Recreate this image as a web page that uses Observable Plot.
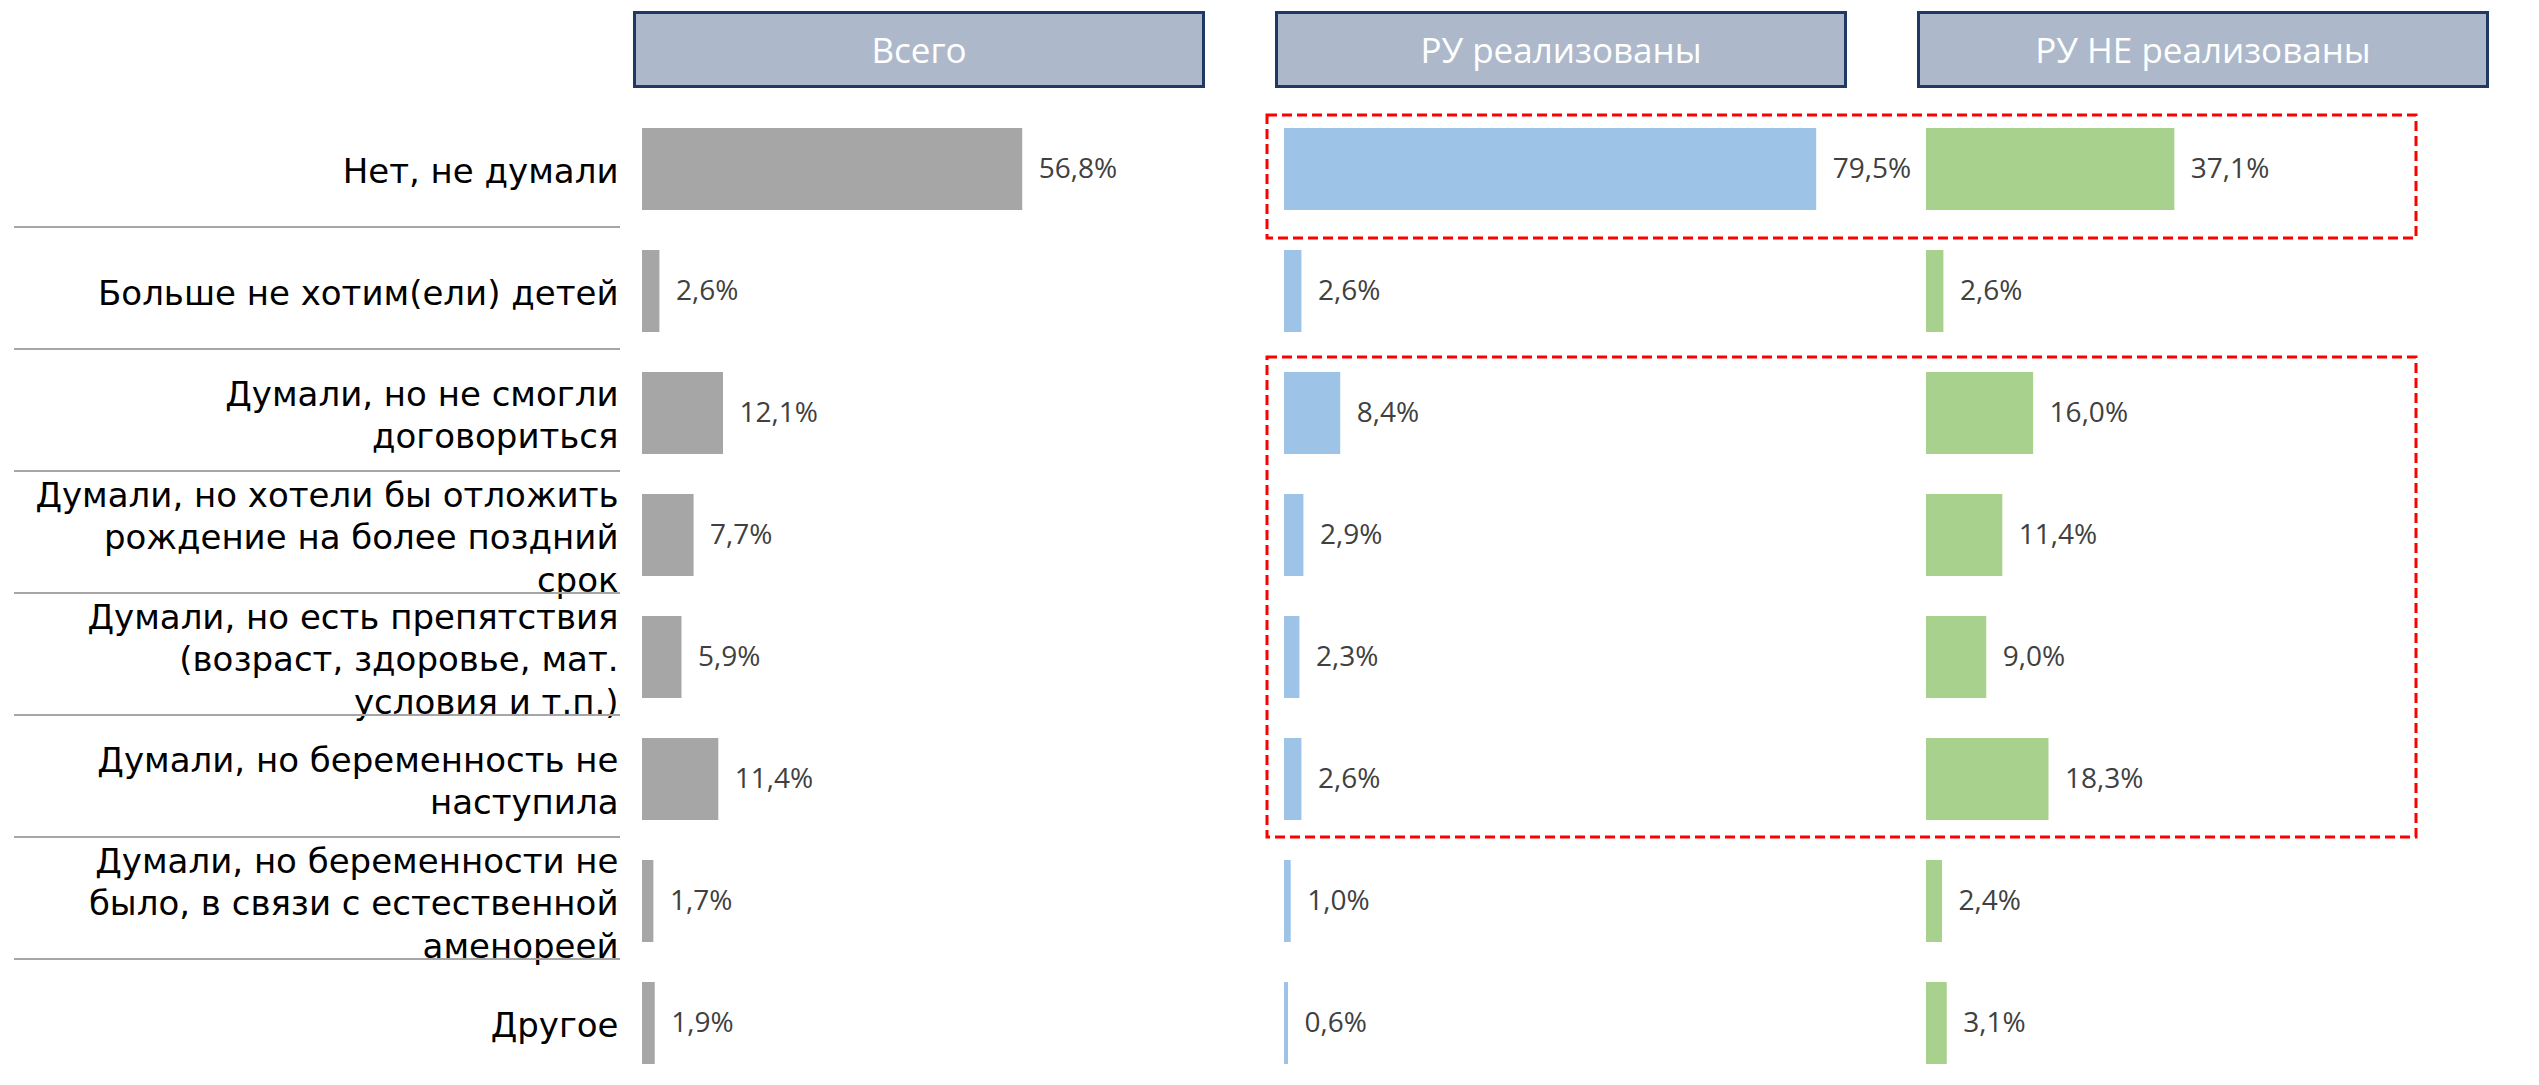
<!DOCTYPE html>
<html><head><meta charset="utf-8">
<script src="https://cdn.jsdelivr.net/npm/d3@7"></script>
<script src="https://cdn.jsdelivr.net/npm/@observablehq/plot@0.6"></script>
<style>
html,body{margin:0;padding:0;background:#fff;}
#wrap{position:relative;width:2539px;height:1085px;overflow:hidden;}
.hdr{position:absolute;box-sizing:border-box;background:#adb9ca;border:3px solid #1f3864;color:#fff;font-family:"Open Sans",sans-serif;font-size:35px;display:flex;align-items:center;justify-content:center;}
</style></head><body><div id="wrap"></div>
<script>
const groups = ["Всего", "РУ реализованы", "РУ НЕ реализованы"];
const colors = ["#a6a6a6", "#9dc3e6", "#a9d18e"];
const categories = [
  "Нет, не думали",
  "Больше не хотим(ели) детей",
  "Думали, но не смогли\nдоговориться",
  "Думали, но хотели бы отложить\nрождение на более поздний\nсрок",
  "Думали, но есть препятствия\n(возраст, здоровье, мат.\nусловия и т.п.)",
  "Думали, но беременность не\nнаступила",
  "Думали, но беременности не\nбыло, в связи с естественной\nаменореей",
  "Другое"
];
const total = [56.8, 2.6, 12.1, 7.7, 5.9, 11.4, 1.7, 1.9];
const realized = [79.5, 2.6, 8.4, 2.9, 2.3, 2.6, 1.0, 0.6];
const notRealized = [37.1, 2.6, 16.0, 11.4, 9.0, 18.3, 2.4, 3.1];
const series = [total, realized, notRealized];

const table = [];
groups.forEach((g, gi) => categories.forEach((c, ci) => table.push({group: g, category: c, value: series[gi][ci]})));
const fmt = v => v.toFixed(1).replace(".", ",") + "%";

const plot = Plot.plot({
  width: 2539, height: 1085,
  marginLeft: 642, marginRight: 43.5, marginTop: 107, marginBottom: 0,
  fx: {domain: groups, paddingInner: 0.11293, paddingOuter: 0, axis: null, label: null},
  x: {domain: [0, 85], axis: null},
  y: {domain: categories, paddingInner: 0.33, paddingOuter: 0.165, axis: null},
  color: {domain: groups, range: colors},
  style: {fontFamily: "Open Sans", background: "white", overflow: "visible"},
  marks: [
    Plot.barX(table, {fx: "group", y: "category", x: "value", fill: "group"}),
    Plot.text(table, {fx: "group", y: "category", x: "value", text: d => fmt(d.value), dx: 16, textAnchor: "start", fontSize: 28, fill: "#404040"}),
    Plot.text(categories, {fx: () => groups[0], y: d => d, text: d => d, frameAnchor: "left", textAnchor: "end", dx: -24, fontSize: 34, fontFamily: "DejaVu Sans", lineHeight: 1.25, fill: "#000"})
  ]
});
const wrap = document.getElementById("wrap");
wrap.appendChild(plot);

const fx = plot.scale("fx");
const y = plot.scale("y");
const bw = y.bandwidth, step = y.step;

// header boxes
groups.forEach(g => {
  const d = document.createElement("div");
  d.className = "hdr";
  d.textContent = g;
  d.style.left = (fx.apply(g) - 9) + "px";
  d.style.top = "11px";
  d.style.width = "572px";
  d.style.height = "77px";
  wrap.appendChild(d);
});

const svg = d3.select(plot);
// separators in the label column
for (let i = 1; i < categories.length; i++) {
  const yy = y.apply(categories[i]) - (step - bw) / 2 - 3;
  svg.append("line").attr("x1", 14).attr("x2", 620).attr("y1", yy).attr("y2", yy)
    .attr("stroke", "#a6a6a6").attr("stroke-width", 2);
}
// red dashed highlight boxes
const xL = fx.apply(groups[1]) - 17, xR = fx.apply(groups[2]) + 490;
[[0, 0, 13, 28], [2, 5, 15, 17]].forEach(([a, b, pt, pb]) => {
  const y0 = y.apply(categories[a]) - pt;
  const y1 = y.apply(categories[b]) + bw + pb;
  svg.append("rect").attr("x", xL).attr("y", y0).attr("width", xR - xL).attr("height", y1 - y0)
    .attr("fill", "none").attr("stroke", "#ff0000").attr("stroke-width", 3).attr("stroke-dasharray", "10 5");
});
</script></body></html>
